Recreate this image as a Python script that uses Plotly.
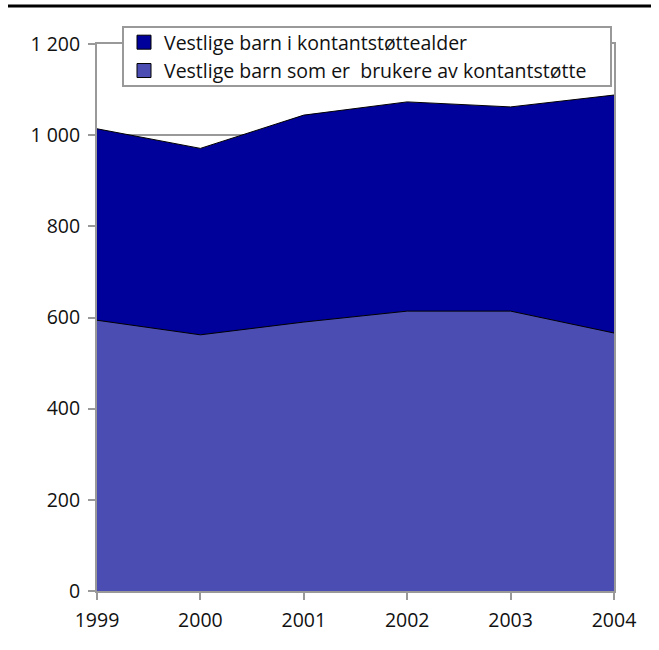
import plotly.graph_objects as go

years = [1999, 2000, 2001, 2002, 2003, 2004]
alder = [1014, 971, 1044, 1073, 1062, 1088]
brukere = [594, 562, 590, 614, 614, 566]
series_names = ["Vestlige barn i kontantstøttealder",
                "Vestlige barn som er  brukere av kontantstøtte"]
series_colors = ["#00009A", "#4B4DB2"]
y_tickvals = [0, 200, 400, 600, 800, 1000, 1200]
y_ticktext = ["0", "200", "400", "600", "800", "1 000", "1 200"]
x_ticktext = ["1999", "2000", "2001", "2002", "2003", "2004"]

W, H = 659, 650
L, R, T, B = 97, 45, 44, 59
PW, PH = W - L - R, H - T - B
FS = 19.5

fig = go.Figure()
for vals, name, col in zip([alder, brukere], series_names, series_colors):
    fig.add_trace(go.Scatter(x=years, y=vals, name=name, mode="lines",
                             fill="tozeroy", fillcolor=col, showlegend=False,
                             hoverinfo="x+y",
                             line=dict(color="#000000", width=1)))
# legend entries (square swatches)
for name, col in zip(series_names, series_colors):
    fig.add_trace(go.Scatter(x=[None], y=[None], name=name, mode="markers",
                             marker=dict(symbol="square", size=14, color=col,
                                         line=dict(color="#000000", width=1))))

axis_common = dict(showline=True, linecolor="#999999", linewidth=2, mirror=True,
                   ticks="outside", tickcolor="#999999", ticklen=7, tickwidth=2,
                   zeroline=False, tickfont=dict(size=FS, color="#111111"))

fig.update_xaxes(range=[1999, 2004], tickvals=years, ticktext=x_ticktext,
                 showgrid=False, ticklabelstandoff=4, **axis_common)
fig.update_yaxes(range=[0, 1200], tickvals=y_tickvals, ticktext=y_ticktext,
                 showgrid=True, gridcolor="#999999", gridwidth=2,
                 ticklabelstandoff=4, **axis_common)

fig.update_layout(
    width=W, height=H,
    margin=dict(l=L, r=R, t=T, b=B, autoexpand=False),
    paper_bgcolor="white", plot_bgcolor="white",
    font=dict(family="Open Sans, Noto Sans, sans-serif", size=FS, color="#111111"),
    showlegend=True,
    legend=dict(x=(124 - L) / PW, y=1 + (T - 23) / PH, xanchor="left", yanchor="top",
                bgcolor="rgba(0,0,0,0)", borderwidth=0, itemwidth=30,
                font=dict(size=FS), tracegroupgap=0),
    shapes=[
        dict(type="line", xref="paper", yref="paper",
             x0=(8 - L) / PW, x1=(651 - L) / PW,
             y0=1.0 + (T - 6) / PH, y1=1.0 + (T - 6) / PH,
             line=dict(color="black", width=3)),
        dict(type="rect", xref="paper", yref="paper",
             x0=(123 - L) / PW, x1=(611 - L) / PW,
             y0=(H - B - 86) / PH, y1=(H - B - 27) / PH, fillcolor="white",
             line=dict(color="#999999", width=2), layer="above"),
    ],
)

fig.write_html("out.html", config={"displayModeBar": False},
               post_script="document.body.style.margin='0px';")
